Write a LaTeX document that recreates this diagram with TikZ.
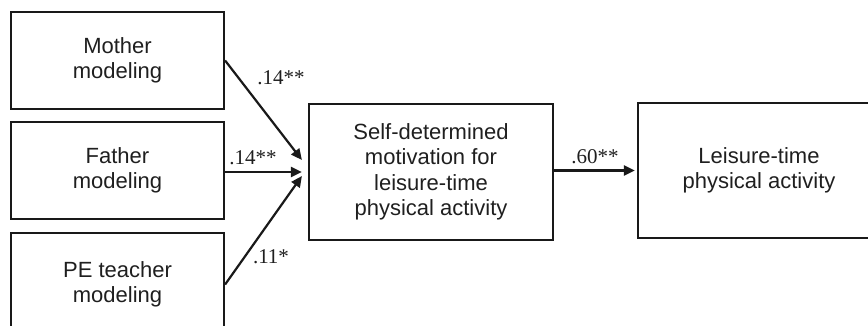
\documentclass[tikz,border=0pt]{standalone}
\usepackage{fontspec}
\setmainfont{Liberation Serif}
\setsansfont{Liberation Sans}
\usetikzlibrary{arrows.meta,calc}
\tikzset{
  box/.style={draw=black!90, line width=2.2pt, align=center, inner sep=0pt,
    font=\sffamily\fontsize{22}{25.5}\selectfont, text=black!88},
  arr/.style={line width=2.2pt, draw=black!90, -{Triangle[length=11pt,width=10pt]}},
  coef/.style={font=\fontsize{21}{24}\selectfont, text=black!88, inner sep=0pt}
}
\begin{document}
\begin{tikzpicture}[x=1pt,y=-1pt]
\useasboundingbox (0,0) rectangle (868,326);
\clip (0,0) rectangle (868,326);
\node[box, minimum width=213pt, minimum height=97pt] (mother) at (117.5,60.5) {Mother\\modeling};
\node[box, minimum width=213pt, minimum height=97pt] (father) at (117.5,170.5) {Father\\modeling};
\node[box, minimum width=213pt, minimum height=103pt] (pe) at (117.5,284.5) {PE teacher\\modeling};
\node[box, minimum width=244pt, minimum height=136pt] (mid) at (431,172) {Self-determined\\motivation for\\leisure-time\\physical activity};
\node[box, minimum width=242pt, minimum height=135pt] (right) at (759,170.5) {Leisure-time\\physical activity};
\coordinate (mend) at ($(mid.west)+(-6,-12)$);
\coordinate (fend) at ($(mid.west)+(-6,0)$);
\coordinate (pend) at ($(mid.west)+(-6,4)$);
\draw[arr] (mother.east) -- (mend);
\draw[arr] (father.east |- fend) -- (fend);
\draw[arr] (pe.east) -- (pend);
\draw[arr, shorten >=2pt] (mid.east |- right.west) -- (right.west);
\node[coef] (l1) at (281,78) {.14**};
\node[coef] (l2) at (253,158) {.14**};
\node[coef] (l3) at (271,257) {.11*};
\node[coef] (l4) at (595,157) {.60**};
\end{tikzpicture}
\end{document}
